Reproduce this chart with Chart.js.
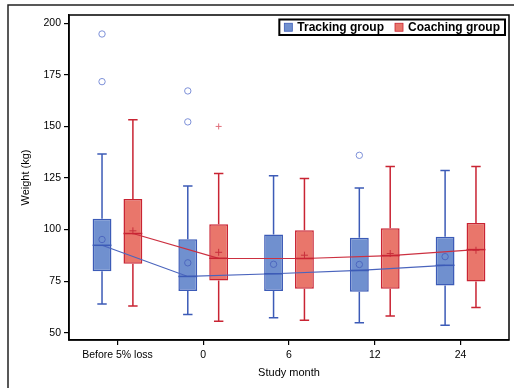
<!DOCTYPE html>
<html lang="en">
<head>
<meta charset="UTF-8" />
<title>Weight by study month</title>
<style>
  body { margin: 0; background: #fff; }
  #wrap { width: 514px; height: 388px; }
</style>
</head>
<body>
<div id="wrap"><canvas id="chart" width="514" height="388"></canvas></div>
<script src="https://cdn.jsdelivr.net/npm/chart.js"></script>
<script>
// data
const categories = ['Before 5% loss', '0', '6', '12', '24'];
const yTicks = [50, 75, 100, 125, 150, 175, 200];

const trackQ1 = [79.8, 70.3, 70.3, 69.9, 72.9];
const trackQ3 = [105.3, 95.3, 97.6, 96.0, 96.5];
const trackMedian = [92.4, 77.3, 78.6, 80.2, 82.7];
const trackMean = [95.2, 83.9, 83.2, 83.1, 86.9];
const trackLow = [64.0, 58.9, 57.3, 54.9, 53.6];
const trackHigh = [136.6, 121.1, 126.1, 120.2, 128.7];
const trackOutliers = [[194.8, 171.7], [167.2, 152.2], [], [136.0], []];

const coachQ1 = [83.4, 75.3, 71.3, 71.3, 74.8];
const coachQ3 = [114.8, 102.6, 99.7, 100.6, 103.2];
const coachMedian = [98.1, 86.1, 86.0, 87.4, 90.3];
const coachMean = [99.4, 89.0, 87.6, 88.4, 90.0];
const coachLow = [63.0, 55.6, 56.1, 58.1, 62.3];
const coachHigh = [153.2, 127.2, 124.8, 130.6, 130.6];
const coachOutliers = [[], [150.0], [], [], []];

const blueFill = '#7090cf', blueLine = '#3c5bb7', blueLight = '#7d90d8';
const redFill = '#e9766b', redLine = '#c92433', redLight = '#e0707c';

const catPct = 0.72;
const barPct = 0.61;
const off = catPct / 4;  // centre of each half of a category

const FONT = "'Liberation Sans', Arial, sans-serif";

function pts(vals, shift) {
  return vals.map((v, i) => ({ x: i + shift, y: v }));
}
function outPts(groups, shift) {
  return groups.flatMap((vals, i) => vals.map(v => ({ x: i + shift, y: v })));
}

const boxParts = {
  id: 'boxParts',
  beforeDraw(chart) {
    const ctx = chart.ctx;
    ctx.save();
    ctx.strokeStyle = '#222';
    ctx.lineWidth = 1.5;
    ctx.beginPath();
    ctx.moveTo(8, chart.height);
    ctx.lineTo(8, 5);
    ctx.lineTo(chart.width, 5);
    ctx.stroke();
    ctx.restore();
  },
  beforeDatasetsDraw(chart) {
    const ctx = chart.ctx;
    const y = chart.scales.y;
    chart.data.datasets.forEach((ds, di) => {
      if (ds.type !== 'bar') return;
      const meta = chart.getDatasetMeta(di);
      ctx.save();
      ctx.strokeStyle = ds.borderColor;
      ctx.lineWidth = 1.5;
      meta.data.forEach((el, j) => {
        const cap = el.width * 0.25;
        const lo = y.getPixelForValue(ds.low[j]);
        const hi = y.getPixelForValue(ds.high[j]);
        const q1 = y.getPixelForValue(ds.data[j].y[0]);
        const q3 = y.getPixelForValue(ds.data[j].y[1]);
        ctx.beginPath();
        ctx.moveTo(el.x, q3); ctx.lineTo(el.x, hi);
        ctx.moveTo(el.x - cap, hi); ctx.lineTo(el.x + cap, hi);
        ctx.moveTo(el.x, q1); ctx.lineTo(el.x, lo);
        ctx.moveTo(el.x - cap, lo); ctx.lineTo(el.x + cap, lo);
        ctx.stroke();
      });
      ctx.restore();
    });
  },
  afterDatasetsDraw(chart) {
    const ctx = chart.ctx;
    const y = chart.scales.y;
    chart.data.datasets.forEach((ds, di) => {
      if (ds.type !== 'bar') return;
      const meta = chart.getDatasetMeta(di);
      ctx.save();
      ctx.strokeStyle = ds.borderColor;
      ctx.lineWidth = 1.5;
      meta.data.forEach((el, j) => {
        const m = y.getPixelForValue(ds.median[j]);
        ctx.beginPath();
        ctx.moveTo(el.x - el.width / 2, m);
        ctx.lineTo(el.x + el.width / 2, m);
        ctx.stroke();
      });
      ctx.restore();
    });
  },
  afterDraw(chart) {
    const ctx = chart.ctx;
    const a = chart.chartArea;
    ctx.save();
    ctx.strokeStyle = '#000';
    ctx.lineWidth = 1.5;
    ctx.strokeRect(a.left, a.top, a.right - a.left, a.bottom - a.top);

    // legend box, top right inside the plot
    ctx.font = 'bold 12px ' + FONT;
    const items = [
      { text: 'Tracking group', fill: blueFill, line: blueLine },
      { text: 'Coaching group', fill: redFill, line: redLine }
    ];
    const sq = 8, gap = 5, itemGap = 11, padX = 5;
    let w = padX * 2;
    items.forEach((it, i) => {
      w += sq + gap + ctx.measureText(it.text).width + (i ? itemGap : 0);
    });
    const h = 15.5;
    const right = a.right - 4;
    const top = a.top + 4.5;
    const left = right - w;
    ctx.fillStyle = '#fff';
    ctx.fillRect(left, top, w, h);
    ctx.lineWidth = 2;
    ctx.strokeRect(left, top, w, h);
    let x = left + padX;
    const cy = top + h / 2;
    items.forEach((it, i) => {
      if (i) x += itemGap;
      ctx.fillStyle = it.fill;
      ctx.fillRect(x, cy - sq / 2, sq, sq);
      ctx.lineWidth = 0.8;
      ctx.strokeStyle = it.line;
      ctx.strokeRect(x, cy - sq / 2, sq, sq);
      x += sq + gap;
      ctx.fillStyle = '#000';
      ctx.textBaseline = 'middle';
      ctx.fillText(it.text, x, cy + 0.5);
      x += ctx.measureText(it.text).width;
    });
    ctx.restore();
  }
};

new Chart(document.getElementById('chart'), {
  type: 'bar',
  data: {
    datasets: [
      {
        type: 'bar',
        label: 'Tracking group',
        data: trackQ1.map((q, i) => ({ x: i, y: [q, trackQ3[i]] })),
        median: trackMedian, low: trackLow, high: trackHigh,
        backgroundColor: blueFill,
        borderColor: blueLine,
        borderWidth: 1.5,
        borderSkipped: false,
        categoryPercentage: catPct,
        barPercentage: barPct,
        order: 3
      },
      {
        type: 'bar',
        label: 'Coaching group',
        data: coachQ1.map((q, i) => ({ x: i, y: [q, coachQ3[i]] })),
        median: coachMedian, low: coachLow, high: coachHigh,
        backgroundColor: redFill,
        borderColor: redLine,
        borderWidth: 1.5,
        borderSkipped: false,
        categoryPercentage: catPct,
        barPercentage: barPct,
        order: 3
      },
      {
        type: 'line',
        data: pts(trackMedian, -off),
        borderColor: '#4a64bd',
        borderWidth: 1.2,
        pointRadius: 0,
        order: 2
      },
      {
        type: 'line',
        data: pts(coachMedian, off),
        borderColor: '#cc3040',
        borderWidth: 1.2,
        pointRadius: 0,
        order: 2
      },
      {
        type: 'scatter',
        data: pts(trackMean, -off),
        pointStyle: 'circle',
        pointRadius: 3.2,
        borderWidth: 1,
        borderColor: '#4d67bf',
        backgroundColor: 'rgba(0,0,0,0)',
        order: 1
      },
      {
        type: 'scatter',
        data: pts(coachMean, off),
        pointStyle: 'cross',
        pointRadius: 3.5,
        borderWidth: 1,
        borderColor: '#c8303c',
        order: 1
      },
      {
        type: 'scatter',
        data: outPts(trackOutliers, -off),
        pointStyle: 'circle',
        pointRadius: 3.2,
        borderWidth: 1,
        borderColor: blueLight,
        backgroundColor: 'rgba(0,0,0,0)',
        order: 1
      },
      {
        type: 'scatter',
        data: outPts(coachOutliers, off),
        pointStyle: 'cross',
        pointRadius: 3,
        borderWidth: 1,
        borderColor: redLight,
        order: 1
      }
    ]
  },
  options: {
    responsive: false,
    animation: false,
    devicePixelRatio: 1,
    layout: { padding: { left: 0, top: 15, right: 3, bottom: 0 } },
    plugins: { legend: { display: false }, tooltip: { enabled: false } },
    scales: {
      x: {
        type: 'linear',
        offset: false,
        min: -0.565,
        max: 4.565,
        afterBuildTicks: s => { s.ticks = categories.map((c, i) => ({ value: i })); },
        afterFit: s => { s.height = 48; },
        ticks: {
          callback: v => categories[Math.round(v)],
          autoSkip: false,
          maxRotation: 0,
          padding: 4,
          color: '#000',
          font: { family: FONT, size: 10.5 }
        },
        grid: { display: true, offset: false, drawOnChartArea: false, tickLength: 5, color: '#000', lineWidth: 1.2 },
        border: { display: true, color: '#000', width: 1.5 },
        title: {
          display: true,
          text: 'Study month',
          color: '#000',
          font: { family: FONT, size: 11 },
          padding: { top: 0, bottom: 8 }
        }
      },
      y: {
        min: 46.5,
        max: 204,
        afterBuildTicks: s => { s.ticks = yTicks.map(v => ({ value: v })); },
        afterFit: s => { s.width = 69; },
        ticks: {
          padding: 3,
          color: '#000',
          font: { family: FONT, size: 10.5 }
        },
        grid: { display: true, drawOnChartArea: false, tickLength: 5, color: '#000', lineWidth: 1.2 },
        border: { display: true, color: '#000', width: 1.5 },
        title: {
          display: true,
          text: 'Weight (kg)',
          color: '#000',
          font: { family: FONT, size: 11 },
          padding: { top: 19, bottom: 0 }
        }
      }
    }
  },
  plugins: [boxParts]
});
</script>
</body>
</html>
